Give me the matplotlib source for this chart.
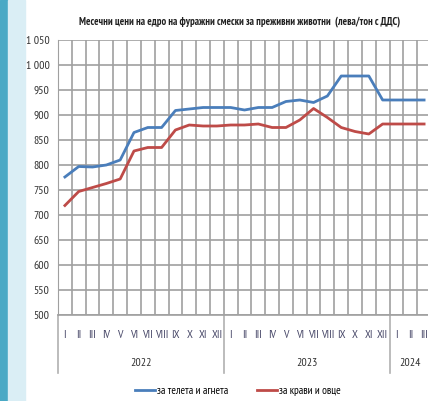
import matplotlib
matplotlib.use("Agg")
import matplotlib.pyplot as plt
from matplotlib.patches import Rectangle

months = ["I", "II", "III", "IV", "V", "VI", "VII", "VIII", "IX", "X", "XI", "XII",
          "I", "II", "III", "IV", "V", "VI", "VII", "VIII", "IX", "X", "XI", "XII",
          "I", "II", "III"]
years = ["2022", "2023", "2024"]
year_months = [12, 12, 3]

calves_lambs = [776, 797, 796, 800, 810, 865, 875, 875, 909, 912, 915, 915,
                915, 910, 915, 915, 927, 930, 925, 938, 978, 978, 978, 930,
                930, 930, 930]
cows_sheep = [719, 747, 755, 763, 772, 828, 835, 835, 870, 880, 878, 878,
              880, 880, 882, 875, 875, 890, 913, 895, 875, 867, 862, 882,
              882, 882, 882]

yticks = [500, 550, 600, 650, 700, 750, 800, 850, 900, 950, 1000, 1050]

plt.rcParams["font.family"] = ["PT Sans Narrow", "DejaVu Sans"]

W, H = 428, 401
fig = plt.figure(figsize=(W / 100, H / 100), dpi=100)
fig.patches.append(Rectangle((0, 0), 8 / W, 1, transform=fig.transFigure,
                             color="#4aa9c5", zorder=0))
fig.patches.append(Rectangle((8 / W, 0), 17 / W, 1, transform=fig.transFigure,
                             color="#daeef5", zorder=0))

ax = fig.add_axes([58 / W, (H - 315) / H, (431 - 58) / W, (315 - 40) / H])
n = len(months)
x = list(range(n))
ax.plot(x, calves_lambs, color="#4a7ebb", lw=2, label="за телета и агнета", zorder=3)
ax.plot(x, cows_sheep, color="#be4b48", lw=2, label="за крави и овце", zorder=3)

ax.set_xlim(-0.5, n - 0.5)
ax.set_ylim(500, 1050)
ax.set_yticks(yticks)
ax.set_yticklabels([f"{v:,}".replace(",", " ") for v in yticks], fontsize=8.5, color="#303030")
ax.tick_params(axis="y", length=0, pad=6)
ax.set_xticks([i + 0.5 for i in range(-1, n)])
ax.set_xticklabels([])
ax.tick_params(axis="x", length=0)
ax.grid(True, color="#a0a0a0", lw=1.2)
for s in ["top", "right"]:
    ax.spines[s].set_visible(False)
ax.spines["left"].set_color("#a0a0a0")
ax.spines["bottom"].set_color("#a0a0a0")
ax.spines["bottom"].set_linewidth(1.2)

xt = ax.get_xaxis_transform()
for i, m in enumerate(months):
    ax.text(i, -20 / 275, m, transform=xt, ha="center", va="center",
            fontsize=8.5, color="#4a4a6a")

start = 0
for yr, cnt in zip(years, year_months):
    ax.text(start + cnt / 2 - 0.5, -48 / 275, yr, transform=xt,
            ha="center", va="center", fontsize=8.5, color="#303030")
    start += cnt
for b in [0, 12, 24]:
    ax.plot([b - 0.5, b - 0.5], [0, -58 / 275], transform=xt,
            color="#b0b0b0", lw=1.2, clip_on=False)

fig.text(240 / W, 1 - 22 / H,
         "Месечни цени на едро на фуражни смески за преживни животни  (лева/тон с ДДС)",
         ha="center", va="center", fontsize=7.6, fontweight="bold", color="#202020")

fig.legend(loc="center", bbox_to_anchor=(238 / W, 1 - 391 / H), ncol=2, frameon=False,
           fontsize=8, handlelength=1.8, handletextpad=0.15, columnspacing=2.6)

fig.savefig("out.png", dpi=100)
